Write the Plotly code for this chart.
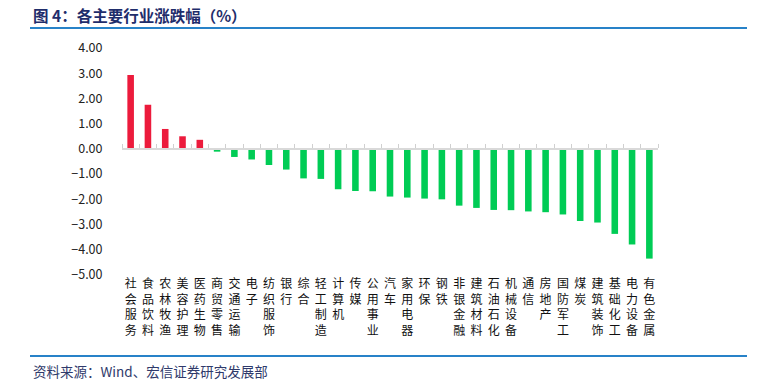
import plotly.graph_objects as go

categories = ["社会服务", "食品饮料", "农林牧渔", "美容护理", "医药生物", "商贸零售", "交通运输",
              "电子", "纺织服饰", "银行", "综合", "轻工制造", "计算机", "传媒", "公用事业",
              "汽车", "家用电器", "环保", "钢铁", "非银金融", "建筑材料", "石油石化", "机械设备",
              "通信", "房地产", "国防军工", "煤炭", "建筑装饰", "基础化工", "电力设备", "有色金属"]
values = [2.93, 1.75, 0.79, 0.50, 0.36, -0.11, -0.32, -0.42, -0.64, -0.82, -1.17, -1.19,
          -1.60, -1.67, -1.68, -1.89, -1.93, -1.97, -2.00, -2.25, -2.34, -2.42, -2.43,
          -2.48, -2.51, -2.60, -2.86, -2.92, -3.37, -3.79, -4.35]
y_ticks = [4, 3, 2, 1, 0, -1, -2, -3, -4, -5]

RED = "rgb(236,27,60)"
GREEN = "rgb(0,204,85)"
FONT = "Noto Sans CJK SC"

W, H = 776, 389
L, T = 122, 48
R = W - 658
B = H - 275
PW, PH = W - L - R, H - T - B


def px(x):
    return (x - L) / PW


def py(y):
    return (H - B - y) / PH


labels = ["<br>".join(list(c)) for c in categories]
colors = [RED if v >= 0 else GREEN for v in values]

fig = go.Figure()
fig.add_trace(go.Bar(x=labels, y=values, marker=dict(color=colors, line=dict(width=0)),
                     hoverinfo="x+y"))
fig.add_trace(go.Scatter(x=labels, y=[None] * len(labels), xaxis="x2", mode="none",
                         showlegend=False, hoverinfo="skip"))

fig.update_layout(
    width=W, height=H,
    margin=dict(l=L, r=R, t=T, b=B, autoexpand=False),
    paper_bgcolor="white", plot_bgcolor="white",
    showlegend=False,
    bargap=0.62,
    font=dict(family=FONT, size=12, color="#222222"),
    xaxis=dict(type="category", showline=False, ticks="", showgrid=False, zeroline=False,
               automargin=False,
               tickfont=dict(family=FONT, size=12, color="#111111"), tickangle=0),
    xaxis2=dict(type="category", overlaying="x", matches="x", anchor="free",
                position=5 / 9, side="top", showline=True, linecolor="#D9D9D9", linewidth=2,
                ticks="outside", ticklen=4, tickwidth=1, tickcolor="#D0D0D0",
                automargin=False,
                tickson="boundaries", showticklabels=False, showgrid=False, zeroline=False),
    yaxis=dict(range=[-5, 4], tickvals=y_ticks, tickformat=".2f", showgrid=False,
               zeroline=False, showline=False, ticks="outside", ticklen=16, automargin=False,
               tickcolor="rgba(0,0,0,0)", tickfont=dict(family=FONT, size=12.5, color="#222222")),
)

# title
fig.add_annotation(xref="paper", yref="paper", x=px(31), y=py(15), xanchor="left",
                   yanchor="middle", showarrow=False,
                   text="<b>图 4：各主要行业涨跌幅（%）</b>",
                   font=dict(family=FONT, size=15.5, color="#1F2D6B"))
fig.add_shape(type="line", xref="paper", yref="paper", x0=px(30), x1=px(747),
              y0=py(28), y1=py(28), line=dict(color="rgb(40,130,200)", width=2))
# footer
fig.add_shape(type="line", xref="paper", yref="paper", x0=px(30), x1=px(747),
              y0=py(356), y1=py(356), line=dict(color="rgb(40,130,200)", width=2))
fig.add_annotation(xref="paper", yref="paper", x=px(31), y=py(371), xanchor="left",
                   yanchor="middle", showarrow=False,
                   text="资料来源：Wind、宏信证券研究发展部",
                   font=dict(family=FONT, size=13.5, color="#2F3A6B"))

fig.write_html("out.html",
               config={"displayModeBar": False, "displaylogo": False},
               post_script="document.body.style.margin='0';document.body.style.overflow='hidden';")
